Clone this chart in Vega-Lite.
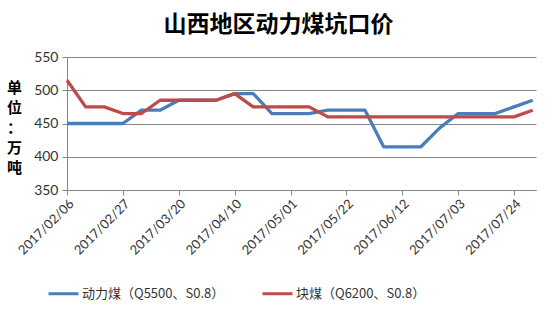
{
  "$schema": "https://vega.github.io/schema/vega-lite/v6.json",
  "autosize": {"type": "none"},
  "width": 469,
  "height": 133,
  "padding": {"left": 67, "top": 57, "right": 22, "bottom": 141},
  "background": "white",
  "title": {
    "text": "山西地区动力煤坑口价",
    "font": "Noto Sans CJK SC",
    "fontSize": 23,
    "fontWeight": "bold",
    "color": "#000000",
    "anchor": "middle",
    "frame": "group",
    "dx": -23,
    "offset": 13
  },
  "config": {
    "view": {"stroke": null},
    "axis": {"labelFont": "Lato", "labelColor": "#333333", "titleFont": "Noto Sans CJK SC"}
  },
  "data": {
    "values": [
      {"date": "2017-02-06", "series": "动力煤（Q5500、S0.8）", "value": 450},
      {"date": "2017-02-13", "series": "动力煤（Q5500、S0.8）", "value": 450},
      {"date": "2017-02-20", "series": "动力煤（Q5500、S0.8）", "value": 450},
      {"date": "2017-02-27", "series": "动力煤（Q5500、S0.8）", "value": 450},
      {"date": "2017-03-06", "series": "动力煤（Q5500、S0.8）", "value": 470},
      {"date": "2017-03-13", "series": "动力煤（Q5500、S0.8）", "value": 470},
      {"date": "2017-03-20", "series": "动力煤（Q5500、S0.8）", "value": 485},
      {"date": "2017-03-27", "series": "动力煤（Q5500、S0.8）", "value": 485},
      {"date": "2017-04-03", "series": "动力煤（Q5500、S0.8）", "value": 485},
      {"date": "2017-04-10", "series": "动力煤（Q5500、S0.8）", "value": 495},
      {"date": "2017-04-17", "series": "动力煤（Q5500、S0.8）", "value": 495},
      {"date": "2017-04-24", "series": "动力煤（Q5500、S0.8）", "value": 465},
      {"date": "2017-05-01", "series": "动力煤（Q5500、S0.8）", "value": 465},
      {"date": "2017-05-08", "series": "动力煤（Q5500、S0.8）", "value": 465},
      {"date": "2017-05-15", "series": "动力煤（Q5500、S0.8）", "value": 470},
      {"date": "2017-05-22", "series": "动力煤（Q5500、S0.8）", "value": 470},
      {"date": "2017-05-29", "series": "动力煤（Q5500、S0.8）", "value": 470},
      {"date": "2017-06-05", "series": "动力煤（Q5500、S0.8）", "value": 415},
      {"date": "2017-06-12", "series": "动力煤（Q5500、S0.8）", "value": 415},
      {"date": "2017-06-19", "series": "动力煤（Q5500、S0.8）", "value": 415},
      {"date": "2017-06-26", "series": "动力煤（Q5500、S0.8）", "value": 443},
      {"date": "2017-07-03", "series": "动力煤（Q5500、S0.8）", "value": 465},
      {"date": "2017-07-10", "series": "动力煤（Q5500、S0.8）", "value": 465},
      {"date": "2017-07-17", "series": "动力煤（Q5500、S0.8）", "value": 465},
      {"date": "2017-07-24", "series": "动力煤（Q5500、S0.8）", "value": 475},
      {"date": "2017-07-31", "series": "动力煤（Q5500、S0.8）", "value": 485},
      {"date": "2017-02-06", "series": "块煤（Q6200、S0.8）", "value": 515},
      {"date": "2017-02-13", "series": "块煤（Q6200、S0.8）", "value": 475},
      {"date": "2017-02-20", "series": "块煤（Q6200、S0.8）", "value": 475},
      {"date": "2017-02-27", "series": "块煤（Q6200、S0.8）", "value": 465},
      {"date": "2017-03-06", "series": "块煤（Q6200、S0.8）", "value": 465},
      {"date": "2017-03-13", "series": "块煤（Q6200、S0.8）", "value": 485},
      {"date": "2017-03-20", "series": "块煤（Q6200、S0.8）", "value": 485},
      {"date": "2017-03-27", "series": "块煤（Q6200、S0.8）", "value": 485},
      {"date": "2017-04-03", "series": "块煤（Q6200、S0.8）", "value": 485},
      {"date": "2017-04-10", "series": "块煤（Q6200、S0.8）", "value": 495},
      {"date": "2017-04-17", "series": "块煤（Q6200、S0.8）", "value": 475},
      {"date": "2017-04-24", "series": "块煤（Q6200、S0.8）", "value": 475},
      {"date": "2017-05-01", "series": "块煤（Q6200、S0.8）", "value": 475},
      {"date": "2017-05-08", "series": "块煤（Q6200、S0.8）", "value": 475},
      {"date": "2017-05-15", "series": "块煤（Q6200、S0.8）", "value": 460},
      {"date": "2017-05-22", "series": "块煤（Q6200、S0.8）", "value": 460},
      {"date": "2017-05-29", "series": "块煤（Q6200、S0.8）", "value": 460},
      {"date": "2017-06-05", "series": "块煤（Q6200、S0.8）", "value": 460},
      {"date": "2017-06-12", "series": "块煤（Q6200、S0.8）", "value": 460},
      {"date": "2017-06-19", "series": "块煤（Q6200、S0.8）", "value": 460},
      {"date": "2017-06-26", "series": "块煤（Q6200、S0.8）", "value": 460},
      {"date": "2017-07-03", "series": "块煤（Q6200、S0.8）", "value": 460},
      {"date": "2017-07-10", "series": "块煤（Q6200、S0.8）", "value": 460},
      {"date": "2017-07-17", "series": "块煤（Q6200、S0.8）", "value": 460},
      {"date": "2017-07-24", "series": "块煤（Q6200、S0.8）", "value": 460},
      {"date": "2017-07-31", "series": "块煤（Q6200、S0.8）", "value": 470}
    ]
  },
  "mark": {"type": "line", "strokeWidth": 3.3, "strokeJoin": "round"},
  "encoding": {
    "x": {
      "field": "date",
      "type": "temporal",
      "scale": {"domain": ["2017-02-06T00:00:00", "2017-08-01T06:00:00"], "nice": false},
      "axis": {
        "title": null,
        "values": ["2017-02-06T00:00:00", "2017-02-27T00:00:00", "2017-03-20T00:00:00", "2017-04-10T00:00:00", "2017-05-01T00:00:00", "2017-05-22T00:00:00", "2017-06-12T00:00:00", "2017-07-03T00:00:00", "2017-07-24T00:00:00"],
        "format": "%Y/%m/%d",
        "labelAngle": -45,
        "labelAlign": "right",
        "labelBaseline": "top",
        "labelFontSize": 13,
        "labelPadding": 2,
        "labelOverlap": false,
        "labelFlush": false,
        "grid": false,
        "domainColor": "#868686",
        "tickColor": "#868686",
        "tickSize": 5
      }
    },
    "y": {
      "field": "value",
      "type": "quantitative",
      "scale": {"domain": [350, 550], "nice": false, "zero": false},
      "axis": {
        "values": [350, 400, 450, 500, 550],
        "title": ["单", "位", "：", "万", "吨"],
        "titleAngle": 0,
        "titleAlign": "center",
        "titleBaseline": "top",
        "titleX": -53,
        "titleY": 23,
        "titleFontSize": 15,
        "titleFontWeight": "bold",
        "titleLineHeight": 20,
        "titleColor": "#000000",
        "labelFontSize": 14,
        "labelPadding": 4,
        "gridColor": "#868686",
        "domainColor": "#868686",
        "tickColor": "#868686",
        "tickSize": 5
      }
    },
    "color": {
      "field": "series",
      "type": "nominal",
      "sort": ["动力煤（Q5500、S0.8）", "块煤（Q6200、S0.8）"],
      "scale": {"domain": ["动力煤（Q5500、S0.8）", "块煤（Q6200、S0.8）"], "range": ["#4a7ebb", "#be4b48"]},
      "legend": {
        "title": null,
        "orient": "none",
        "direction": "horizontal",
        "legendX": -20,
        "legendY": 220,
        "symbolType": "stroke",
        "symbolSize": 900,
        "symbolStrokeWidth": 3,
        "labelFont": "Noto Sans CJK SC",
        "labelFontSize": 13,
        "labelColor": "#333333",
        "labelOffset": 2,
        "labelLimit": 300,
        "columnPadding": 31
      }
    }
  }
}
